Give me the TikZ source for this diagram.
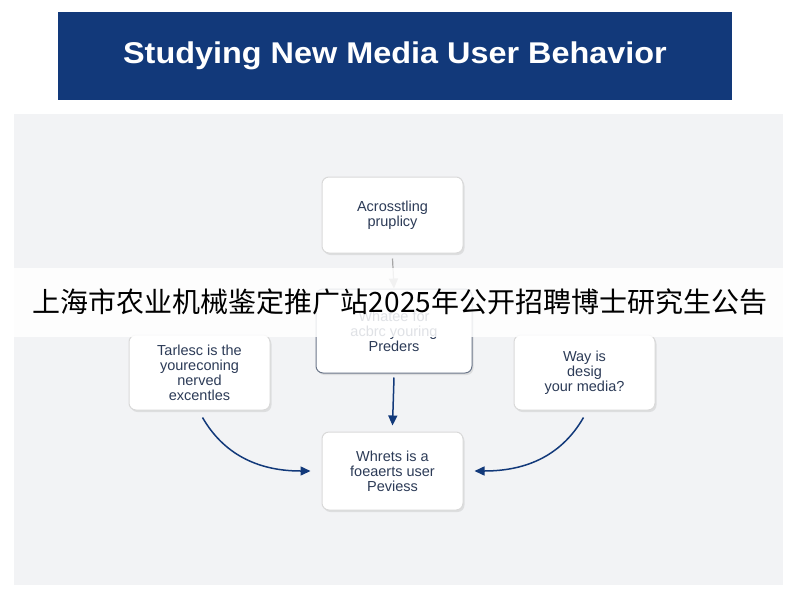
\documentclass[tikz,border=0pt]{standalone}
\usepackage{fontspec}
\setmainfont{Liberation Sans}
\newfontfamily\cjk{Noto Sans CJK SC}
\usetikzlibrary{arrows.meta,shadows}
\definecolor{navy}{HTML}{12397A}
\definecolor{txt}{HTML}{2C3B57}
\definecolor{panel}{HTML}{F2F3F5}
\begin{document}
\begin{tikzpicture}[x=1pt,y=-1pt,
  box/.style={draw=gray!30,fill=white,rounded corners=7pt,line width=1pt,
    drop shadow={shadow xshift=1.5pt,shadow yshift=-2pt,opacity=0.18},
    align=center,font=\fontsize{14.5}{15}\selectfont,text=txt,inner sep=2pt},
  arr/.style={-{Triangle[length=10pt,width=9pt]},line width=1.5pt,draw=navy}]
\useasboundingbox (0,0) rectangle (800,600);
\fill[white] (0,0) rectangle (800,600);
\fill[panel] (14,114) rectangle (783,585);
\node[fill=navy,minimum width=624pt,minimum height=88pt,inner sep=0,
  text=white,font=\bfseries\fontsize{30}{32}\selectfont,xscale=1.08] (title) at (395,56) {Studying New Media User Behavior};
\node[box,minimum width=141pt,minimum height=76pt] (a) at (392.5,215) {Acrosstling\\pruplicy};
\node[box,draw=txt!70,minimum width=156pt,minimum height=84pt] (b) at (394,331) {Whatee for\\acbrc youring\\Preders};
\node[box,minimum width=141pt,minimum height=75pt] (l) at (199.5,372.5) {Tarlesc is the\\youreconing\\nerved\\excentles};
\node[box,minimum width=141pt,minimum height=75pt] (r) at (584.5,372.5) {Way is\\desig\\your media?};
\node[box,minimum width=141pt,minimum height=78pt] (d) at (392.5,471) {Whrets is a\\foeaerts user\\Peviess};
\draw[arr,draw=gray!70,line width=1.2pt] (a.south) ++(0,5) coordinate (a1) (a1) -- (b.north);
\draw[arr] ([yshift=-4pt]b.south) -- ([yshift=6pt]d.north);
\draw[arr] ([xshift=3pt,yshift=-7pt]l.south) to[out=-60,in=180] ([xshift=-11pt]d.west);
\draw[arr] ([xshift=-1pt,yshift=-7pt]r.south) to[out=-120,in=0] ([xshift=11pt]d.east);
\fill[white,opacity=0.85] (0,268) rectangle (800,337);
\node[font=\cjk\fontsize{28}{30}\selectfont,text=black] (ad) at (400,302) {上海市农业机械鉴定推广站2025年公开招聘博士研究生公告};
\end{tikzpicture}
\end{document}
